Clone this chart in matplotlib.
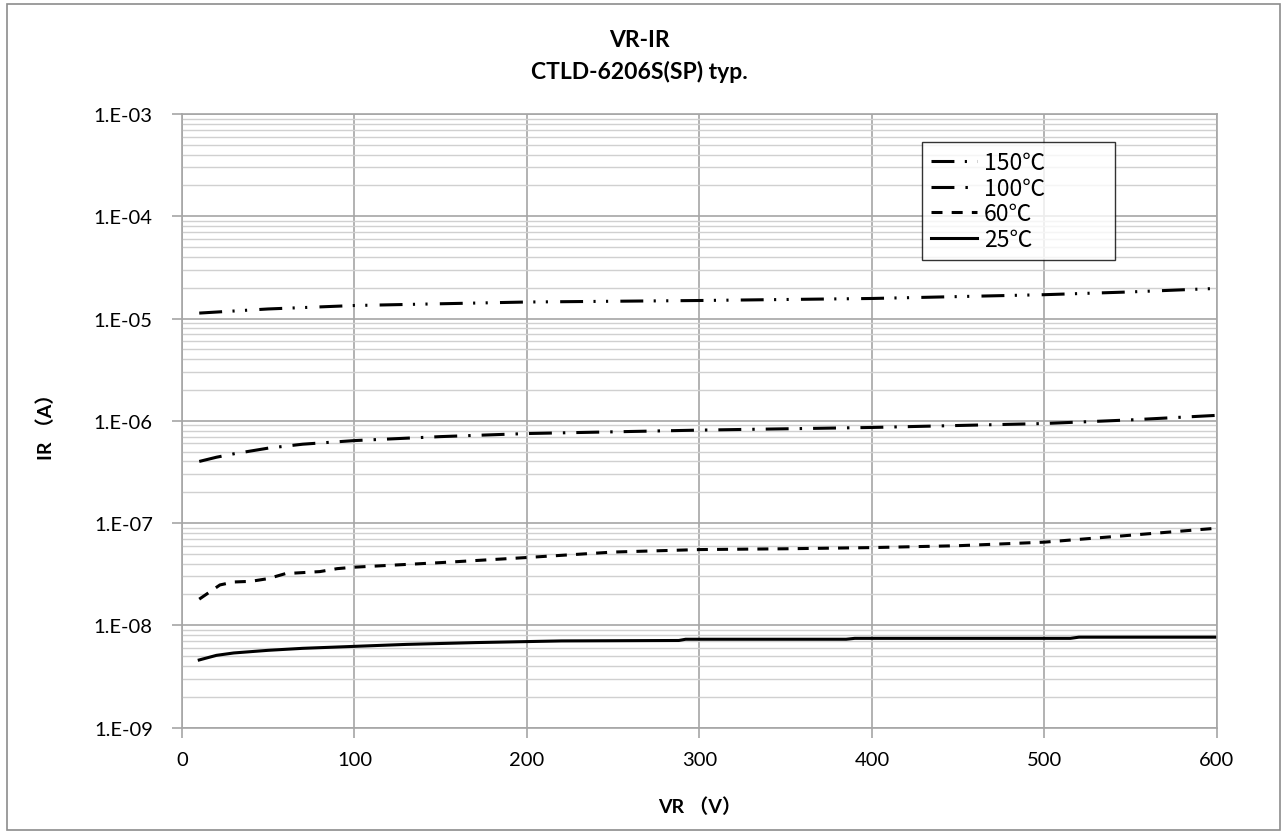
import numpy as np
import matplotlib
matplotlib.use('Agg')
import matplotlib.pyplot as plt
from matplotlib.ticker import FixedLocator, FuncFormatter, NullFormatter
from matplotlib.patches import Rectangle

plt.rcParams['font.family'] = ['Lato', 'Noto Sans CJK JP', 'DejaVu Sans']

# data (VR in volts, IR in amps)
vr_150 = [10, 50, 100, 200, 300, 400, 500, 550, 600]
ir_150 = [1.13e-5, 1.24e-5, 1.34e-5, 1.45e-5, 1.50e-5, 1.57e-5, 1.71e-5, 1.82e-5, 1.97e-5]

vr_100 = [10, 20, 30, 50, 70, 100, 150, 200, 300, 400, 500, 550, 600]
ir_100 = [4.0e-7, 4.4e-7, 4.75e-7, 5.4e-7, 5.9e-7, 6.4e-7, 7.0e-7, 7.5e-7, 8.1e-7,
          8.6e-7, 9.4e-7, 1.02e-6, 1.13e-6]

vr_60 = [10, 22, 30, 40, 50, 60, 80, 90, 100, 150, 200, 250, 300, 350, 400, 450, 500, 550, 600]
ir_60 = [1.80e-8, 2.48e-8, 2.65e-8, 2.69e-8, 2.86e-8, 3.2e-8, 3.35e-8, 3.58e-8, 3.70e-8,
         4.1e-8, 4.6e-8, 5.2e-8, 5.5e-8, 5.6e-8, 5.75e-8, 6.0e-8, 6.5e-8, 7.6e-8, 8.9e-8]

vr_25 = [10, 20, 30, 50, 70, 100, 130, 170, 220, 288, 292, 385, 390, 515, 520, 600]
ir_25 = [4.58e-9, 5.08e-9, 5.36e-9, 5.69e-9, 5.95e-9, 6.22e-9, 6.5e-9, 6.77e-9, 7.03e-9,
         7.1e-9, 7.3e-9, 7.3e-9, 7.45e-9, 7.45e-9, 7.65e-9, 7.65e-9]

x_ticks = [0, 100, 200, 300, 400, 500, 600]
y_exps = [-9, -8, -7, -6, -5, -4, -3]

fig = plt.figure(figsize=(12.87, 8.37), dpi=100)
ax = fig.add_axes([0.1414, 0.1296, 0.8042, 0.733])

lw = 2.2
ax.plot(vr_150, ir_150, color='black', lw=lw, label='150℃',
        linestyle=(0, (7.5, 3.4, 0.7, 3.4, 0.7, 4.0)))
ax.plot(vr_100, ir_100, color='black', lw=lw, label='100℃',
        linestyle=(0, (7.5, 3.6, 0.8, 3.6)))
ax.plot(vr_60, ir_60, color='black', lw=lw, label='60℃',
        linestyle=(0, (3.6, 3.0)))
ax.plot(vr_25, ir_25, color='black', lw=lw, label='25℃', linestyle='-')

ax.set_yscale('log')
ax.set_xlim(0, 600)
ax.set_ylim(1e-9, 1e-3)

# fixed ticks so nothing is placed outside the axis range
y_major = [10.0 ** e for e in y_exps]
y_minor = [m * 10.0 ** e for e in y_exps[:-1] for m in range(2, 10)]
ax.xaxis.set_major_locator(FixedLocator(x_ticks))
ax.yaxis.set_major_locator(FixedLocator(y_major))
ax.yaxis.set_minor_locator(FixedLocator(y_minor))
ax.yaxis.set_minor_formatter(NullFormatter())
ax.yaxis.set_major_formatter(FuncFormatter(lambda v, p: '1.E-%02d' % round(-np.log10(v))))

ax.grid(True, which='major', color='#a6a6a6', lw=1.2)
ax.grid(True, which='minor', axis='y', color='#d0d0d0', lw=1.0)
ax.set_axisbelow(True)

for s in ax.spines.values():
    s.set_color('#a6a6a6')
    s.set_linewidth(1.2)

ax.tick_params(axis='both', which='major', labelsize=14.5, color='#a6a6a6',
               length=7, width=1.2, direction='out')
ax.tick_params(axis='y', which='minor', length=0)
ax.tick_params(axis='x', pad=10)
ax.tick_params(axis='y', pad=14)

ax.set_xlabel('VR （V）', fontsize=14, fontweight='bold', labelpad=20)
ax.set_ylabel('IR （A）', fontsize=14, fontweight='bold', labelpad=28)

fig.text(0.497, 0.952, 'VR-IR', ha='center', va='center', fontsize=16.5, fontweight='bold')
fig.text(0.497, 0.914, 'CTLD-6206S(SP) typ.', ha='center', va='center', fontsize=16.5,
         fontweight='bold')

# legend box stretched to the same width as the original
leg = ax.legend(loc='upper left', bbox_to_anchor=(0.715, 0.759, 0.1865, 0.196),
                mode='expand', prop={'family': ['Noto Sans CJK JP'], 'size': 16.5},
                frameon=True, fancybox=False, handlelength=2.0, labelspacing=0.12,
                borderpad=0.4, handletextpad=0.3, borderaxespad=0)
leg.get_frame().set_edgecolor('black')
leg.get_frame().set_linewidth(1.0)

fig.patches.append(Rectangle((7 / 1287, 1 - 831 / 837), 1273 / 1287, 826 / 837,
                             transform=fig.transFigure, fill=False,
                             edgecolor='#8c8c8c', lw=1.2))

plt.savefig('out.png', dpi=100)
